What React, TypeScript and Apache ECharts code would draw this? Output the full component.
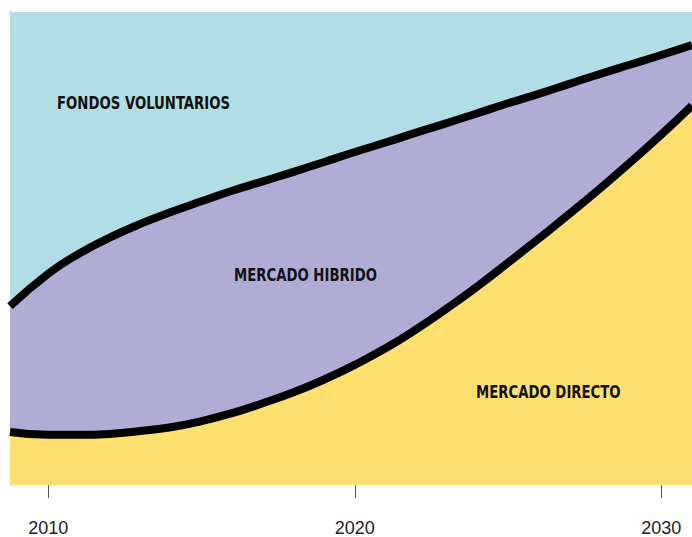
import React, { useEffect, useRef } from "react";
import * as echarts from "echarts";

const years = [2008.75, 2010, 2011, 2012, 2013, 2014, 2015, 2016, 2017, 2018, 2019, 2020, 2021, 2022, 2023, 2024, 2025, 2026, 2027, 2028, 2029, 2030, 2031];
const mercadoDirecto = [11.2, 10.6, 10.6, 10.8, 11.4, 12.2, 13.5, 15.2, 17.3, 19.6, 22.3, 25.4, 28.9, 32.9, 37.3, 42.0, 47.0, 52.1, 57.3, 62.7, 68.3, 74.1, 80.2];
const mercadoHibrido = [26.6, 34.1, 38.3, 41.5, 43.8, 45.5, 46.5, 47.0, 46.9, 46.6, 46.0, 45.0, 43.5, 41.6, 39.2, 36.6, 33.7, 30.6, 27.5, 24.2, 20.6, 16.8, 12.8];
const fondosVoluntarios = [62.2, 55.3, 51.1, 47.7, 44.8, 42.3, 40.0, 37.8, 35.8, 33.8, 31.7, 29.6, 27.6, 25.5, 23.5, 21.4, 19.3, 17.3, 15.2, 13.1, 11.1, 9.1, 7.0];
const tickYears = [2010, 2020, 2030];
const areaLabels = ["FONDOS VOLUNTARIOS", "MERCADO HIBRIDO", "MERCADO DIRECTO"];

// cumulative (stacked) values built from the arrays above
const cumDirect = mercadoDirecto.map((v, i) => [years[i], v]);
const cumHybrid = mercadoHibrido.map((v, i) => [years[i], v + mercadoDirecto[i]]);
const cumTotal = fondosVoluntarios.map((v, i) => [years[i], v + mercadoHibrido[i] + mercadoDirecto[i]]);

export default function App() {
  const ref = useRef<HTMLDivElement>(null);
  useEffect(() => {
    if (!ref.current) return;
    const chart = echarts.init(ref.current, undefined, { renderer: "svg" });
    const labelFont = "bold 18px 'Liberation Sans Narrow', 'DejaVu Sans Condensed', sans-serif";
    const label = (text: string, x: number, y: number) => ({
      type: "text",
      x,
      y,
      scaleX: 0.82,
      z: 10,
      style: { text, font: labelFont, fill: "#111", verticalAlign: "middle" },
    });
    chart.setOption({
      animation: false,
      grid: { left: 10, right: 0, top: 12, bottom: 51 },
      xAxis: [
        {
          type: "value",
          min: 2008.75,
          max: 2031,
          position: "bottom",
          offset: 15,
          axisLine: { show: false },
          splitLine: { show: false },
          axisTick: { show: true, length: 13, customValues: tickYears, lineStyle: { color: "#555", width: 1 } },
          axisLabel: {
            customValues: tickYears,
            formatter: (v: number) => String(v),
            margin: 19,
            fontSize: 18,
            color: "#222",
            fontFamily: "'Liberation Sans', sans-serif",
          },
        },
        {
          type: "value",
          min: 2008.75,
          max: 2031,
          position: "top",
          axisLine: { show: true, lineStyle: { color: "#4d5f60", width: 1 } },
          axisTick: { show: false },
          axisLabel: { show: false },
          splitLine: { show: false },
        },
      ],
      yAxis: {
        type: "value",
        min: 0,
        max: 100,
        axisLine: { show: true, lineStyle: { color: "#4d5f60", width: 1 } },
        axisTick: { show: false },
        axisLabel: { show: false },
        splitLine: { show: false },
      },
      series: [
        {
          name: areaLabels[0],
          type: "line",
          smooth: 0.5,
          symbol: "none",
          z: 2,
          data: cumTotal,
          lineStyle: { width: 0 },
          areaStyle: { color: "#b0dee4", opacity: 1 },
        },
        {
          name: areaLabels[1],
          type: "line",
          smooth: 0.5,
          symbol: "none",
          z: 3,
          data: cumHybrid,
          lineStyle: { color: "#000", width: 8 },
          areaStyle: { color: "#b1acd6", opacity: 1 },
        },
        {
          name: areaLabels[2],
          type: "line",
          smooth: 0.5,
          symbol: "none",
          z: 4,
          data: cumDirect,
          lineStyle: { color: "#000", width: 8 },
          areaStyle: { color: "#ffe06f", opacity: 1 },
        },
      ],
      graphic: [
        label(areaLabels[0], 57, 103),
        label(areaLabels[1], 234, 275),
        label(areaLabels[2], 476, 392),
      ],
    });
    return () => chart.dispose();
  }, []);
  return <div ref={ref} style={{ position: "absolute", left: 0, top: 0, width: 692, height: 537 }} />;
}
